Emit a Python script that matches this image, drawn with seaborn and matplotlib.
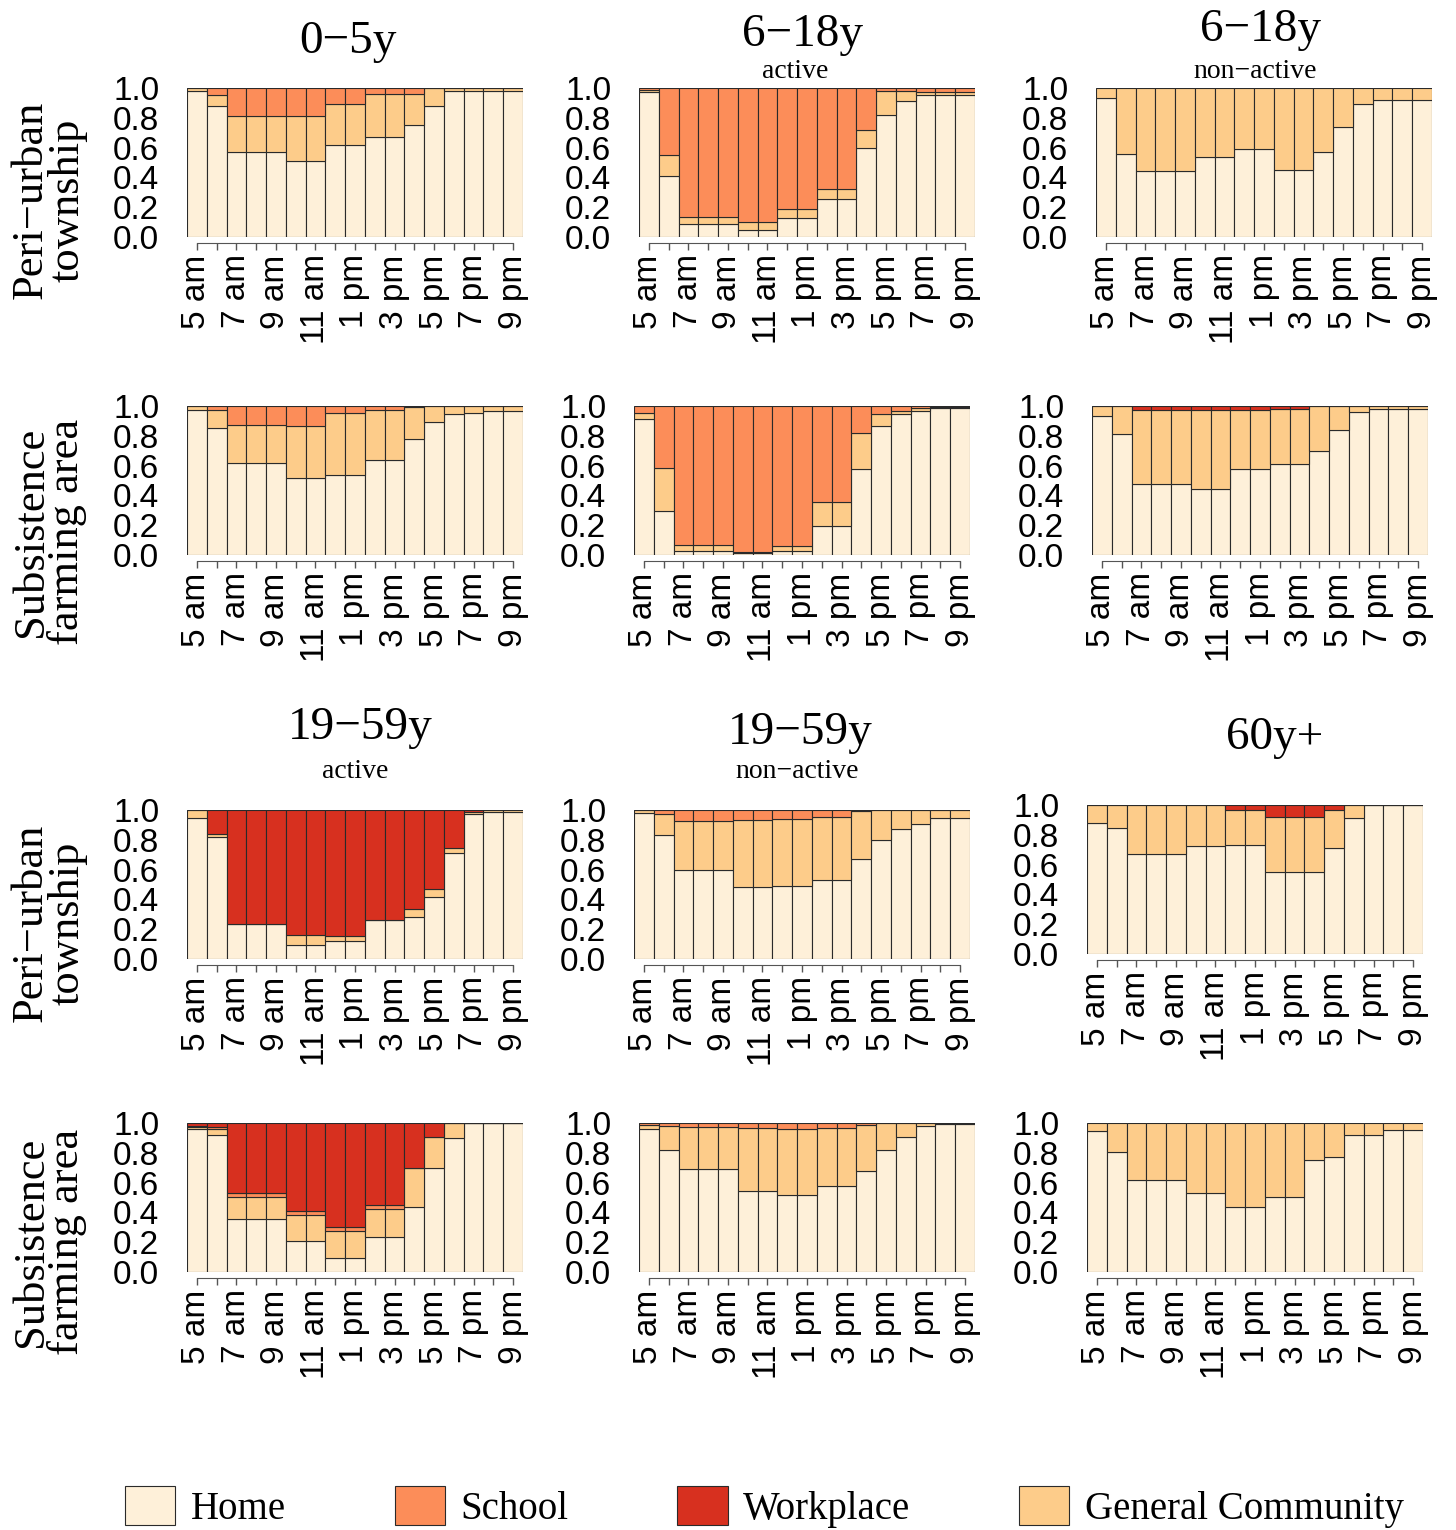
import numpy as np
import pandas as pd
import seaborn as sns
import matplotlib.pyplot as plt
from matplotlib.patches import Patch

# hourly time slots, 5 am .. 9 pm
hours = ['5 am', '6 am', '7 am', '8 am', '9 am', '10 am', '11 am', '12 pm', '1 pm',
         '2 pm', '3 pm', '4 pm', '5 pm', '6 pm', '7 pm', '8 pm', '9 pm']

places = ['Home', 'School', 'Workplace', 'General Community']
colors = {'Home': '#FEF0D9', 'School': '#FC8D59', 'Workplace': '#D7301F',
          'General Community': '#FDCC8A'}
# stacking: last level ends up at the bottom
stack_order = ['Workplace', 'School', 'General Community', 'Home']

# ---- Peri-urban township ----
peri_0_5 = {
    'Home': [0.98, 0.88, 0.57, 0.57, 0.57, 0.51, 0.51, 0.62, 0.62, 0.67, 0.67, 0.75, 0.88, 0.98, 0.98, 0.98, 0.98],
    'General Community': [0.02, 0.07, 0.24, 0.24, 0.24, 0.30, 0.30, 0.27, 0.27, 0.29, 0.29, 0.21, 0.12, 0.02, 0.02, 0.02, 0.02],
    'School': [0, 0.05, 0.19, 0.19, 0.19, 0.19, 0.19, 0.11, 0.11, 0.04, 0.04, 0.04, 0, 0, 0, 0, 0],
}
peri_6_18_act = {
    'Home': [0.97, 0.41, 0.09, 0.09, 0.09, 0.045, 0.045, 0.13, 0.13, 0.255, 0.255, 0.60, 0.82, 0.91, 0.955, 0.955, 0.955],
    'General Community': [0.015, 0.14, 0.045, 0.045, 0.045, 0.055, 0.055, 0.06, 0.06, 0.07, 0.07, 0.115, 0.158, 0.068, 0.018, 0.018, 0.018],
    'School': [0.015, 0.45, 0.865, 0.865, 0.865, 0.90, 0.90, 0.81, 0.81, 0.675, 0.675, 0.285, 0.022, 0.022, 0.027, 0.027, 0.027],
}
peri_6_18_non = {
    'Home': [0.93, 0.56, 0.44, 0.44, 0.44, 0.54, 0.54, 0.59, 0.59, 0.45, 0.45, 0.57, 0.74, 0.895, 0.92, 0.92, 0.92],
    'General Community': [0.07, 0.44, 0.56, 0.56, 0.56, 0.46, 0.46, 0.41, 0.41, 0.55, 0.55, 0.43, 0.26, 0.105, 0.08, 0.08, 0.08],
}
peri_19_59_act = {
    'Home': [0.944, 0.821, 0.235, 0.235, 0.235, 0.096, 0.096, 0.119, 0.119, 0.265, 0.265, 0.285, 0.413, 0.709, 0.973, 0.984, 0.984],
    'General Community': [0.056, 0.02, 0, 0, 0, 0.068, 0.068, 0.033, 0.033, 0, 0, 0.049, 0.058, 0.038, 0.014, 0.016, 0.016],
    'Workplace': [0, 0.159, 0.765, 0.765, 0.765, 0.836, 0.836, 0.848, 0.848, 0.735, 0.735, 0.666, 0.529, 0.253, 0.013, 0, 0],
}
peri_19_59_non = {
    'Home': [0.978, 0.834, 0.594, 0.594, 0.594, 0.484, 0.484, 0.489, 0.489, 0.527, 0.527, 0.668, 0.80, 0.87, 0.906, 0.944, 0.944],
    'General Community': [0.022, 0.137, 0.334, 0.334, 0.334, 0.446, 0.446, 0.448, 0.448, 0.424, 0.424, 0.328, 0.20, 0.13, 0.094, 0.056, 0.056],
    'School': [0, 0.029, 0.072, 0.072, 0.072, 0.07, 0.07, 0.063, 0.063, 0.049, 0.049, 0.004, 0, 0, 0, 0, 0],
}
peri_60 = {
    'Home': [0.881, 0.843, 0.67, 0.67, 0.67, 0.724, 0.724, 0.733, 0.733, 0.551, 0.551, 0.551, 0.712, 0.915, 1, 1, 1],
    'General Community': [0.119, 0.157, 0.33, 0.33, 0.33, 0.276, 0.276, 0.231, 0.231, 0.37, 0.37, 0.37, 0.252, 0.085, 0, 0, 0],
    'Workplace': [0, 0, 0, 0, 0, 0, 0, 0.036, 0.036, 0.079, 0.079, 0.079, 0.036, 0, 0, 0, 0],
}

# ---- Subsistence farming area ----
subs_0_5 = {
    'Home': [0.97, 0.85, 0.62, 0.62, 0.62, 0.52, 0.52, 0.54, 0.54, 0.64, 0.64, 0.78, 0.895, 0.945, 0.955, 0.965, 0.965],
    'General Community': [0.03, 0.12, 0.25, 0.25, 0.25, 0.345, 0.345, 0.415, 0.415, 0.335, 0.335, 0.215, 0.105, 0.055, 0.045, 0.035, 0.035],
    'School': [0, 0.03, 0.13, 0.13, 0.13, 0.135, 0.135, 0.045, 0.045, 0.025, 0.025, 0.005, 0, 0, 0, 0, 0],
}
subs_6_18_act = {
    'Home': [0.91, 0.295, 0.027, 0.027, 0.027, 0.011, 0.011, 0.027, 0.027, 0.197, 0.197, 0.577, 0.866, 0.944, 0.966, 0.985, 0.985],
    'General Community': [0.043, 0.291, 0.042, 0.042, 0.042, 0.011, 0.011, 0.033, 0.033, 0.159, 0.159, 0.242, 0.078, 0.022, 0.018, 0.005, 0.005],
    'School': [0.047, 0.414, 0.931, 0.931, 0.931, 0.978, 0.978, 0.94, 0.94, 0.644, 0.644, 0.181, 0.056, 0.034, 0.016, 0.01, 0.01],
}
subs_6_18_non = {
    'Home': [0.933, 0.812, 0.479, 0.479, 0.479, 0.441, 0.441, 0.577, 0.577, 0.609, 0.609, 0.698, 0.839, 0.96, 0.978, 0.978, 0.978],
    'General Community': [0.067, 0.188, 0.491, 0.491, 0.491, 0.529, 0.529, 0.393, 0.393, 0.371, 0.371, 0.302, 0.161, 0.04, 0.022, 0.022, 0.022],
    'Workplace': [0, 0, 0.03, 0.03, 0.03, 0.03, 0.03, 0.03, 0.03, 0.02, 0.02, 0, 0, 0, 0, 0, 0],
}
subs_19_59_act = {
    'Home': [0.962, 0.917, 0.356, 0.356, 0.356, 0.21, 0.21, 0.094, 0.094, 0.235, 0.235, 0.436, 0.698, 0.899, 1, 1, 1],
    'General Community': [0.013, 0.045, 0.147, 0.147, 0.147, 0.173, 0.173, 0.183, 0.183, 0.188, 0.188, 0.262, 0.21, 0.101, 0, 0, 0],
    'School': [0.007, 0.013, 0.025, 0.025, 0.025, 0.024, 0.024, 0.025, 0.025, 0.027, 0.027, 0, 0, 0, 0, 0, 0],
    'Workplace': [0.018, 0.025, 0.472, 0.472, 0.472, 0.593, 0.593, 0.698, 0.698, 0.55, 0.55, 0.302, 0.092, 0, 0, 0, 0],
}
subs_19_59_non = {
    'Home': [0.96, 0.819, 0.691, 0.691, 0.691, 0.546, 0.546, 0.515, 0.515, 0.577, 0.577, 0.678, 0.819, 0.906, 0.982, 0.993, 0.993],
    'General Community': [0.029, 0.159, 0.282, 0.282, 0.282, 0.42, 0.42, 0.445, 0.445, 0.389, 0.389, 0.311, 0.181, 0.094, 0.018, 0.007, 0.007],
    'School': [0.011, 0.022, 0.027, 0.027, 0.027, 0.034, 0.034, 0.04, 0.04, 0.034, 0.034, 0.011, 0, 0, 0, 0, 0],
}
subs_60 = {
    'Home': [0.949, 0.805, 0.617, 0.617, 0.617, 0.528, 0.528, 0.436, 0.436, 0.501, 0.501, 0.752, 0.772, 0.922, 0.922, 0.953, 0.953],
    'General Community': [0.051, 0.195, 0.383, 0.383, 0.383, 0.472, 0.472, 0.564, 0.564, 0.499, 0.499, 0.248, 0.228, 0.078, 0.078, 0.047, 0.047],
}

sns.set_style('white')
plt.rcParams['font.family'] = ['Liberation Sans', 'DejaVu Sans']
plt.rcParams['text.color'] = 'black'
plt.rcParams['xtick.color'] = 'black'
plt.rcParams['ytick.color'] = 'black'
serif = ['Liberation Serif', 'DejaVu Serif']

W, H = 1456, 1530
fig = plt.figure(figsize=(W / 100, H / 100), dpi=100)

def fx(px):
    return px / W

def fy(py):
    return 1 - py / H

# (data, left px, top px)
panels = [
    (peri_0_5, 187, 88), (peri_6_18_act, 639, 88), (peri_6_18_non, 1096, 88),
    (subs_0_5, 187, 406), (subs_6_18_act, 634, 406), (subs_6_18_non, 1092, 406),
    (peri_19_59_act, 187, 810), (peri_19_59_non, 634, 810), (peri_60, 1087, 805),
    (subs_19_59_act, 187, 1123), (subs_19_59_non, 639, 1123), (subs_60, 1087, 1123),
]
pw, ph = 336, 149

for d, left, top in panels:
    ax = fig.add_axes([fx(left), fy(top + ph), pw / W, ph / H])
    rows = []
    for place in places:
        if place in d:
            for i, v in enumerate(d[place]):
                rows.append((i, place, v))
    df = pd.DataFrame(rows, columns=['hour', 'place', 'frac'])
    sns.histplot(data=df, x='hour', weights='frac', hue='place', hue_order=stack_order,
                 palette=colors, multiple='stack', discrete=True, shrink=1, alpha=1,
                 edgecolor='#2a2a2a', linewidth=0.8, legend=False, ax=ax)
    # spines first: moving a spine resets the tick objects
    for s in ['top', 'right', 'left']:
        ax.spines[s].set_visible(False)
    ax.spines['bottom'].set_position(('outward', 4.5))
    ax.spines['bottom'].set_bounds(0, 16)
    ax.spines['bottom'].set_color('#555555')
    ax.set_xlim(-0.5, 16.5)
    ax.set_ylim(0, 1)
    ax.set_xlabel('')
    ax.set_ylabel('')
    ax.set_xticks(range(len(hours)))
    ax.set_xticklabels([h if i % 2 == 0 else '' for i, h in enumerate(hours)])
    ax.set_yticks(np.arange(0, 1.01, 0.2))
    ax.set_yticklabels(['%.1f' % v for v in np.arange(0, 1.01, 0.2)])
    ax.tick_params(axis='x', bottom=True, length=5, width=1, color='#555555', pad=3,
                   labelsize=24, labelrotation=90, labelcolor='black')
    ax.tick_params(axis='y', left=False, length=0, pad=20, labelsize=24, labelcolor='black')
    for lab in ax.get_xticklabels():
        lab.set_va('top')
        lab.set_ha('center')

# column titles
titles = [('0\u22125y', 348, 42), ('6\u221218y', 803, 35), ('6\u221218y', 1260, 30),
          ('19\u221259y', 360, 728), ('19\u221259y', 800, 733), ('60y+', 1275, 738)]
for t, x, y in titles:
    fig.text(fx(x), fy(y), t, fontsize=34, family=serif, ha='center', va='center')
subtitles = [('active', 795, 71), ('non\u2212active', 1255, 71),
             ('active', 355, 771), ('non\u2212active', 797, 771)]
for t, x, y in subtitles:
    fig.text(fx(x), fy(y), t, fontsize=20, family=serif, ha='center', va='center')

# row labels
rowlabs = [('Peri\u2212urban\ntownship', 200), ('Subsistence\nfarming area', 532),
           ('Peri\u2212urban\ntownship', 923), ('Subsistence\nfarming area', 1242)]
for t, y in rowlabs:
    fig.text(fx(49), fy(y), t, fontsize=32, family=serif, rotation=90,
             ha='center', va='center', multialignment='center', linespacing=0.9)

handles = [Patch(facecolor=colors[p], edgecolor='#2a2a2a', linewidth=0.8) for p in places]
fig.legend(handles, places, loc='lower left', bbox_to_anchor=(fx(125), 2 / H), ncol=4,
           frameon=False, prop={'family': serif, 'size': 28}, handlelength=1.29,
           handleheight=1.16, handletextpad=0.4, columnspacing=2.8, borderpad=0,
           borderaxespad=0)

fig.savefig('out.png', dpi=100)
